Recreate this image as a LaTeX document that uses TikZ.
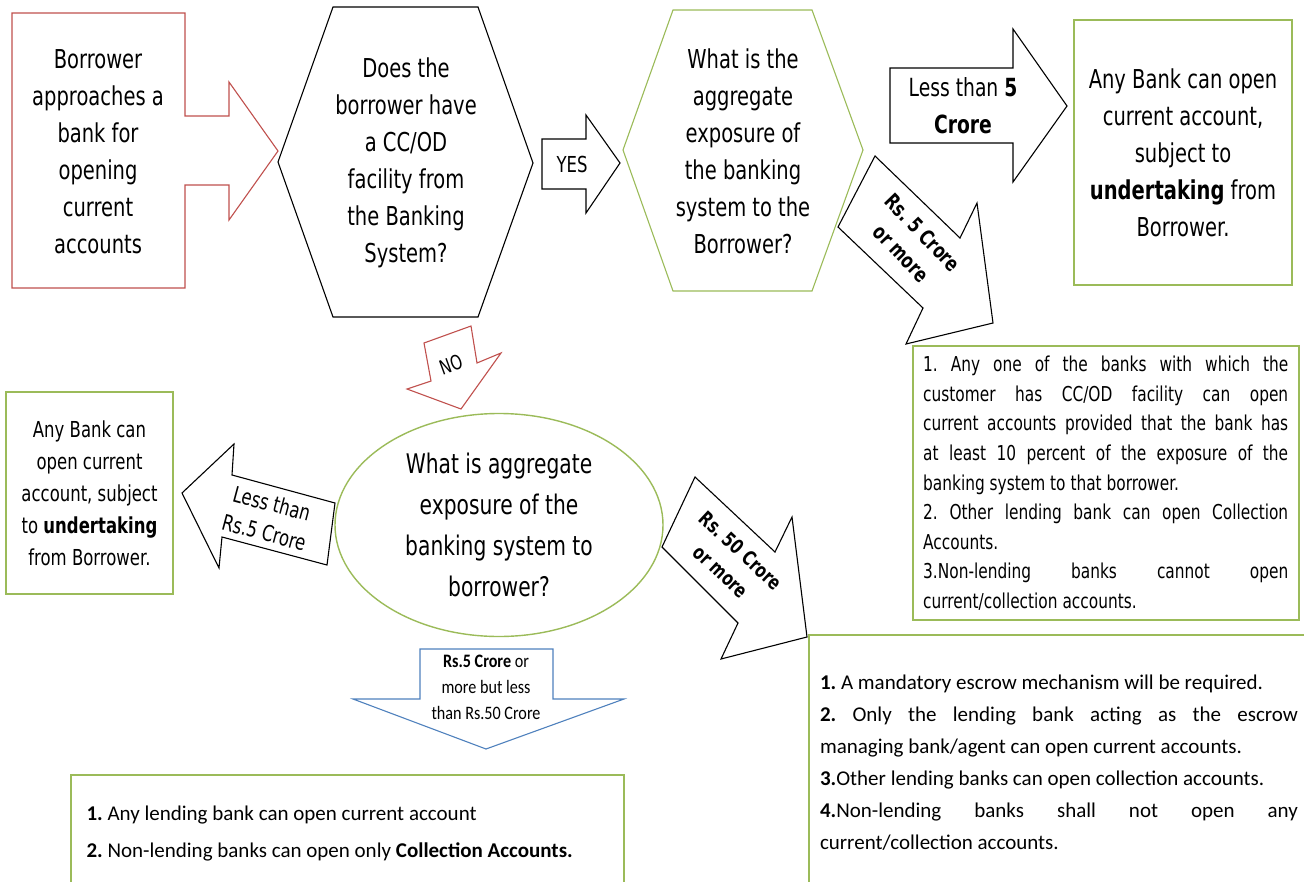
\documentclass[tikz,border=0pt]{standalone}
\usepackage{fontspec}
\setmainfont{DejaVu Sans}[FakeStretch=0.75]
\newfontfamily\calfont{Carlito}
\newfontfamily\calnarrow{Carlito}[FakeStretch=0.85]
\usetikzlibrary{shapes.geometric}
\definecolor{boxred}{RGB}{192,80,77}
\definecolor{boxgreen}{RGB}{155,187,89}
\definecolor{arrowblue}{RGB}{79,129,189}
\setlength{\parindent}{0pt}
\frenchspacing
\tikzset{
  outline/.style={line width=1.1pt, line join=miter, fill=white},
  greenbox/.style={draw=boxgreen, line width=1.6pt, fill=white},
  bigtext/.style={align=center, font=\fontsize{26}{37}\selectfont},
  midtext/.style={align=center, font=\fontsize{22}{32}\selectfont},
  arrowtext/.style={align=center, font=\fontsize{22}{30}\selectfont},
  fulltext/.style={text width=#1, align=justify, inner sep=0pt},
}
\begin{document}
\begin{tikzpicture}[x=1pt,y=-1pt]
  \useasboundingbox (0,0) rectangle (1304,881);

  % Borrower box with its arrow
  \draw[boxred, outline] (12,13) -- (185,13) -- (185,116) -- (229,116) -- (229,82)
     -- (278,151) -- (229,220) -- (229,185) -- (185,185) -- (185,288) -- (12,288) -- cycle;
  \node[bigtext] (borrower) at (98,152) {Borrower\\approaches a\\bank for\\opening\\current\\accounts};

  % First question
  \draw[black, outline] (333,7) -- (478,7) -- (533,163) -- (478,317) -- (333,317) -- (278,162) -- cycle;
  \node[bigtext] (ccod) at (406,163) {Does the\\borrower have\\a CC/OD\\facility from\\the Banking\\System?};

  % YES
  \draw[black, outline] (542,139) -- (586,139) -- (586,115) -- (620,163) -- (586,213) -- (586,189) -- (542,189) -- cycle;
  \node[arrowtext] (yes) at (572,164) {YES};

  % Exposure question (top)
  \draw[boxgreen, outline] (673,10) -- (812,10) -- (863,150) -- (812,291) -- (673,291) -- (623,150) -- cycle;
  \node[bigtext] (exptop) at (743,151) {What is the\\aggregate\\exposure of\\the banking\\system to the\\Borrower?};

  % Less than 5 Crore
  \draw[black, outline] (890,68) -- (1013,68) -- (1013,29) -- (1067,106) -- (1013,182) -- (1013,143) -- (890,143) -- cycle;
  \node[align=center, font=\fontsize{25}{37}\selectfont] (lessfive) at (963,106) {Less than \textbf{5}\\\textbf{Crore}};

  \node[greenbox, bigtext, minimum width=218pt, minimum height=265pt] (anybank) at (1183,152.5)
     {Any Bank can open\\current account,\\subject to\\\textbf{undertaking} from\\Borrower.};

  % Rs. 5 Crore or more
  \draw[black, outline] (875,156) -- (960,238) -- (977,203) -- (993,323) -- (906,344) -- (923,308) -- (838,227) -- cycle;
  \node[arrowtext, font=\fontsize{21}{30}\selectfont\bfseries, rotate=-46] (fivemore) at (912,243) {Rs. 5 Crore\\or more};

  \draw[greenbox] (913,346) rectangle (1299,620);
  \node[fulltext=365pt, font=\fontsize{20.5}{29.6}\selectfont, anchor=north west] (tenpc) at (923,356)
     {\hyphenpenalty=10000 \tolerance=9999
      1. Any one of the banks with which the\linebreak
      customer has CC/OD facility can open\linebreak
      current accounts provided that the bank has\linebreak
      at least 10 percent of the exposure of the\linebreak
      banking system to that borrower.\par
      2. Other lending bank can open Collection\linebreak
      Accounts.\par
      3.Non-lending banks cannot open\linebreak
      current/collection accounts.};

  % NO
  \draw[boxred, outline] (424,343) -- (471,326) -- (477,363) -- (501,353) -- (461,409) -- (407,389) -- (431,381) -- cycle;
  \node[font=\fontsize{20}{24}\selectfont, rotate=20] (no) at (451,365) {NO};

  % Exposure question (bottom)
  \node[draw=boxgreen, line width=1.4pt, ellipse, minimum width=328pt, minimum height=223pt, inner sep=0pt,
        align=center, font=\fontsize{27}{41}\selectfont] (expbot) at (499,525)
     {What is aggregate\\exposure of the\\banking system to\\borrower?};

  % Less than Rs.5 Crore
  \draw[black, outline] (182,493) -- (234,444) -- (232,475) -- (335,503) -- (327,565) -- (222,537) -- (219,568) -- cycle;
  \node[arrowtext, rotate=-15] (lessrs) at (268,518) {Less than\\Rs.5 Crore};

  \node[greenbox, midtext, minimum width=167pt, minimum height=202pt] (anyleft) at (89.5,493)
     {Any Bank can\\open current\\account, subject\\to \textbf{undertaking}\\from Borrower.};

  % Rs. 50 Crore or more
  \draw[black, outline] (695,477) -- (775,552) -- (792,517) -- (807,637) -- (721,659) -- (738,623) -- (662,547) -- cycle;
  \node[arrowtext, font=\fontsize{20}{29}\selectfont\bfseries, rotate=-43] (fiftymore) at (731,561) {Rs. 50 Crore\\or more};

  % Between 5 and 50 Crore
  \draw[arrowblue, outline] (420,649) -- (553,649) -- (553,699) -- (624,699) -- (486,749) -- (353,699) -- (420,699) -- cycle;
  \node[align=center, font=\calnarrow\fontsize{19}{26}\selectfont] (between) at (486,687)
     {\textbf{Rs.5 Crore} or\\more but less\\than Rs.50 Crore};

  \draw[greenbox] (71,775) rectangle (624,895);
  \node[align=left, anchor=west, font=\calfont\fontsize{21}{37}\selectfont] (lending) at (83,834)
     {\textbf{1.} Any lending bank can open current account\\
      \textbf{2.} Non-lending banks can open only \textbf{Collection Accounts.}};

  \draw[greenbox] (809,635) rectangle (1315,895);
  \node[fulltext=478pt, font=\calfont\fontsize{21}{32}\selectfont] (escrow) at (1059,763)
     {\hyphenpenalty=10000 \tolerance=9999
      \textbf{1.} A mandatory escrow mechanism will be required.\par
      \textbf{2.} Only the lending bank acting as the escrow\linebreak
      managing bank/agent can open current accounts.\par
      \textbf{3.}Other lending banks can open collection accounts.\par
      \textbf{4.}Non-lending banks shall not open any\linebreak
      current/collection accounts.};
\end{tikzpicture}
\end{document}
